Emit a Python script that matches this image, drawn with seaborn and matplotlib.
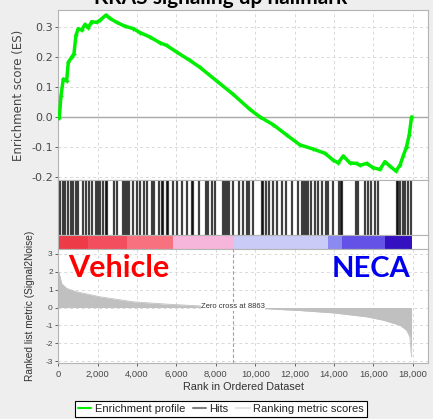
import numpy as np
import pandas as pd
import matplotlib
matplotlib.use("Agg")
import matplotlib.pyplot as plt
from matplotlib.lines import Line2D
from matplotlib.ticker import FuncFormatter
import seaborn as sns

# ---------------- data ----------------
title = "KRAS signaling up hallmark"

es_rank = [0, 50, 135, 254, 423, 508, 677, 795, 897, 1015, 1184, 1354, 1523, 1692, 1946,
           2115, 2420, 2623, 2961, 3384, 3807, 4145, 4653, 5160, 5499, 6007, 6683, 7191,
           8037, 8883, 9729, 10236, 10913, 11590, 12267, 12944, 13536, 13959, 14213, 14467,
           14805, 15143, 15313, 15651, 15989, 16328, 16581, 16835, 17140, 17343, 17512,
           17681, 17817, 17935]
es_value = [0.0, -0.003, 0.07, 0.126, 0.12, 0.182, 0.199, 0.21, 0.272, 0.294, 0.289, 0.308,
            0.297, 0.317, 0.315, 0.322, 0.339, 0.328, 0.315, 0.302, 0.294, 0.281, 0.266,
            0.247, 0.238, 0.216, 0.188, 0.165, 0.120, 0.075, 0.025, 0.0, -0.026, -0.060,
            -0.093, -0.107, -0.121, -0.144, -0.153, -0.130, -0.153, -0.155, -0.161, -0.155,
            -0.169, -0.175, -0.149, -0.164, -0.180, -0.161, -0.130, -0.099, -0.060, 0.0]

hit_ranks = [85, 220, 338, 508, 626, 761, 897, 1015, 1235, 1404, 1574, 1692, 1912, 2030,
             2115, 2284, 2420, 2487, 2826, 2961, 3266, 3384, 3469, 3604, 3773, 4010, 4145,
             4349, 4484, 4738, 4856, 5127, 5245, 5330, 5499, 5584, 5837, 6007, 6260, 6514,
             6768, 6853, 7157, 7496, 7614, 7783, 7952, 8342, 8460, 8545, 8680, 8883, 9188,
             9357, 9560, 9695, 9898, 10321, 10406, 10541, 10710, 10913, 11083, 11336, 11556,
             11844, 12182, 12352, 12470, 12572, 12690, 12808, 13028, 13198, 13367, 13587,
             13705, 13959, 14264, 14331, 14382, 15110, 15228, 15566, 15736, 15854, 16074,
             16243, 17174, 17258, 17343, 17478, 17597, 17766, 17884]

metric_rank = [0, 51, 169, 423, 931, 2115, 3807, 5499, 7191, 8863, 10575, 12267, 13959,
               15651, 16497, 17343, 17681, 17850, 17935]
metric_value = [2.1, 1.9, 1.35, 1.07, 0.88, 0.6, 0.32, 0.19, 0.09, 0.0, -0.07, -0.17, -0.3,
                -0.52, -0.71, -0.99, -1.27, -1.64, -2.77]
zero_cross = 8863

band_edges = [0, 1500, 3500, 5800, 8900, 13700, 14400, 16600, 17935]
band_colors = ['#ee3b48', '#f24e5e', '#f8717f', '#f6b6dc', '#cbcbf8', '#8a8af0',
               '#6452e6', '#3410c0']

es_ticks = [-0.2, -0.1, 0.0, 0.1, 0.2, 0.3]
metric_ticks = [-3, -2, -1, 0, 1, 2, 3]
rank_ticks = [0, 2000, 4000, 6000, 8000, 10000, 12000, 14000, 16000, 18000]

legend_labels = ["Enrichment profile", "Hits", "Ranking metric scores"]

# ---------------- style ----------------
sns.set_theme(style="white")
plt.rcParams['font.family'] = ['Liberation Sans', 'DejaVu Sans']
plt.rcParams['axes.unicode_minus'] = False

W, H = 433, 419
fig = plt.figure(figsize=(W / 100, H / 100), dpi=100, facecolor='#eeeeee')

def fx(px):
    return px / W

def fy(py):
    return 1 - py / H

left, right = 58.3, 428
xmax = 18770
spine_col = '#b4b4b4'
grid_kw = dict(color='#d9d9d9', linestyle=(0, (3, 3)), linewidth=0.7)
tick_col = '#4a4a4a'

ax_es = fig.add_axes([fx(left), fy(180), fx(right - left), (180 - 10) / H])
ax_hit = fig.add_axes([fx(left), fy(235), fx(right - left), 55 / H])
ax_bar = fig.add_axes([fx(left), fy(249), fx(right - left), 14 / H])
ax_m = fig.add_axes([fx(left), fy(363), fx(right - left), 114 / H])

for ax in (ax_es, ax_hit, ax_bar, ax_m):
    ax.set_facecolor('white')
    ax.set_xlim(0, xmax)
    for s in ax.spines.values():
        s.set_color(spine_col)
        s.set_linewidth(0.8)

# --- ES panel ---
es_df = pd.DataFrame({"rank": es_rank, "es": es_value})
ax_es.set_ylim(-0.21, 0.356)
for t in rank_ticks[1:]:
    ax_es.axvline(t, **grid_kw, zorder=0)
for t in es_ticks:
    ax_es.axhline(t, **grid_kw, zorder=0)
ax_es.axhline(0, color='#a8a8a8', linewidth=1.0, zorder=1)
sns.lineplot(data=es_df, x="rank", y="es", ax=ax_es, color='#00ee00', linewidth=2.5,
             marker='+', markersize=3, markeredgewidth=1.0, markeredgecolor='#00ee00',
             zorder=3, legend=False)
ax_es.set_yticks(es_ticks)
ax_es.yaxis.set_major_formatter(FuncFormatter(lambda v, p: f"{v:.1f}"))
ax_es.set_xticks([])
ax_es.set_xlabel("")
ax_es.set_ylabel("Enrichment score (ES)", family='DejaVu Sans', fontsize=8.5,
                 color='#444444')
ax_es.yaxis.set_label_coords((25 - left) / (right - left), 0.5)
ax_es.tick_params(axis='y', labelsize=8, colors=tick_col, length=2, width=0.6,
                  left=True, pad=2)
for lab in ax_es.get_yticklabels():
    lab.set_family('DejaVu Sans')

# --- hits panel ---
ax_hit.set_ylim(0, 1)
ax_hit.vlines(hit_ranks, 0, 1, color='black', linewidth=1.6, alpha=0.75)
ax_hit.set_xticks([])
ax_hit.set_yticks([])

# --- color bar ---
ax_bar.set_ylim(0, 1)
for a, b, c in zip(band_edges[:-1], band_edges[1:], band_colors):
    ax_bar.axvspan(a, b, color=c, linewidth=0)
ax_bar.set_xticks([])
ax_bar.set_yticks([])

# --- ranked metric panel ---
m_df = pd.DataFrame({"rank": metric_rank, "metric": metric_value})
ax_m.set_ylim(-3.11, 3.28)
for t in rank_ticks[1:]:
    ax_m.axvline(t, **grid_kw, zorder=0)
for t in metric_ticks:
    ax_m.axhline(t, **grid_kw, zorder=0)
ax_m.fill_between(m_df["rank"], 0, m_df["metric"], color='#c0c0c0', linewidth=0, zorder=2)
sns.lineplot(data=m_df, x="rank", y="metric", ax=ax_m, color='#c0c0c0', linewidth=0.6,
             zorder=2, legend=False)
ax_m.axvline(zero_cross, color='#a0a0a0', linestyle=(0, (3, 2)), linewidth=0.8, zorder=3)
ax_m.text(zero_cross, 0.05, f"Zero cross at {zero_cross}", ha='center', va='center',
          fontsize=5.5, color='#333333', zorder=4,
          bbox=dict(facecolor='white', edgecolor='none', pad=0.3))
ax_m.set_yticks(metric_ticks)
ax_m.set_xticks(rank_ticks)
ax_m.xaxis.set_major_formatter(FuncFormatter(lambda v, p: f"{int(v):,}"))
ax_m.tick_params(axis='y', labelsize=6, colors=tick_col, length=2, width=0.6, left=True,
                 pad=2)
ax_m.tick_params(axis='x', labelsize=6.8, colors=tick_col, length=2, width=0.6,
                 bottom=True, pad=3)
ax_m.set_xlabel("Rank in Ordered Dataset", fontsize=7.8, color='#333333', labelpad=2)
ax_m.set_ylabel("Ranked list metric (Signal2Noise)", fontsize=7.3, color='#333333')
ax_m.yaxis.set_label_coords((35 - left) / (right - left), 0.5)

ax_m.text((68 - left) / (right - left), (363 - 277) / 114, "Vehicle", transform=ax_m.transAxes,
          ha='left', va='baseline', family='Lato', fontweight='bold', fontsize=22,
          color='#ff0000', zorder=5)
ax_m.text((410 - left) / (right - left), (363 - 277) / 114, "NECA", transform=ax_m.transAxes,
          ha='right', va='baseline', family='Lato', fontweight='bold', fontsize=21,
          color='#0000ee', zorder=5)

# --- title (cut at the top edge, as in the reference) ---
fig.text(0.51, fy(4), title, ha='center', va='baseline', family='Lato',
         fontweight='bold', fontsize=15, color='black')

# --- legend ---
handles = [Line2D([], [], color='#00ee00', linewidth=1.5),
           Line2D([], [], color='#808080', linewidth=1.5),
           Line2D([], [], color='#e4e4e4', linewidth=1.5)]
leg = fig.legend(handles, legend_labels, loc='upper center',
                 bbox_to_anchor=(fx(221), fy(401)), ncol=3, fontsize=8, frameon=True,
                 fancybox=False, edgecolor='black', framealpha=1, handlelength=1.2,
                 handletextpad=0.3, columnspacing=0.7, borderpad=0.25, borderaxespad=0)
leg.get_frame().set_linewidth(0.8)
for t in leg.get_texts():
    t.set_color('#222222')

fig.savefig("out.png", dpi=100, facecolor=fig.get_facecolor())
